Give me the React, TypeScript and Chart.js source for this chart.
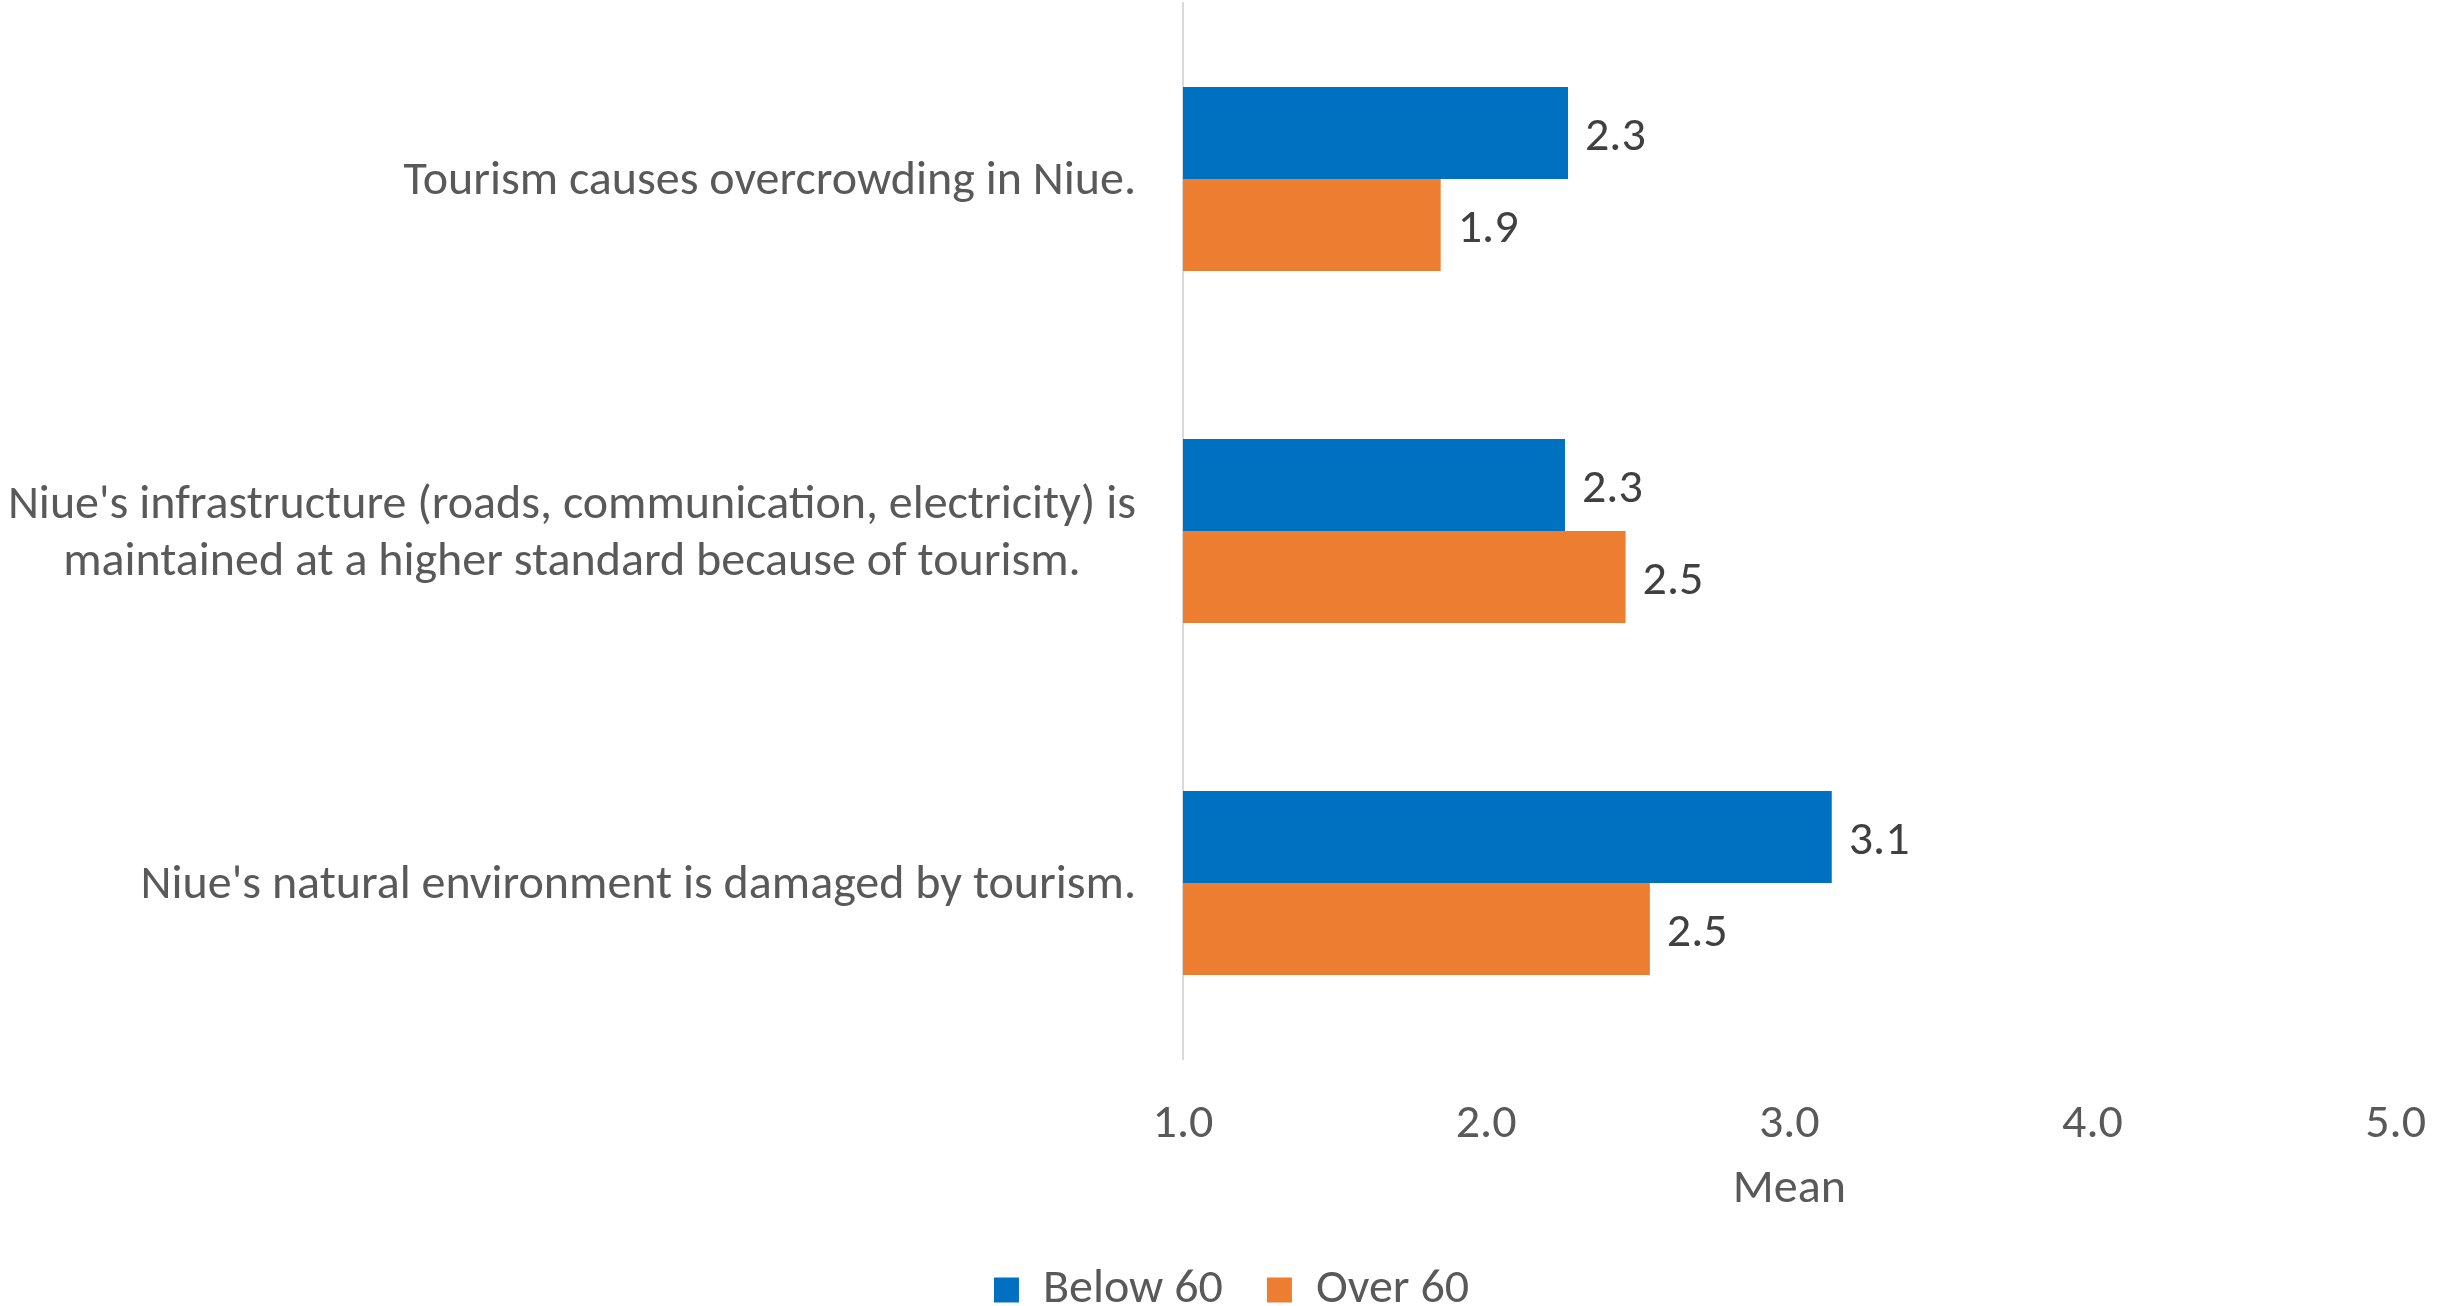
import React, { useEffect, useRef } from "react";
import { Chart, registerables } from "chart.js";

Chart.register(...registerables);

const categories: string[][] = [
  ["Tourism causes overcrowding in Niue."],
  [
    "Niue's infrastructure (roads, communication, electricity) is",
    "maintained at a higher standard because of tourism.",
  ],
  ["Niue's natural environment is damaged by tourism."],
];
const below60: number[] = [2.27, 2.26, 3.14];
const over60: number[] = [1.85, 2.46, 2.54];
const seriesNames: string[] = ["Below 60", "Over 60"];
const xTicks: number[] = [1, 2, 3, 4, 5];
const axisTitle = "Mean";

const FONT = "Carlito, Calibri, Lato, 'Noto Sans', sans-serif";
const FS = 48;
const LEG_PAD = 44;
const LEGEND_TOP = 1222;

const legendPlacePlugin = {
  id: "legendPlacePlugin",
  afterLayout(chart: any) {
    const l = chart.legend;
    if (!l) return;
    const h = l.height;
    l.top = LEGEND_TOP;
    l.bottom = LEGEND_TOP + h;
  },
};

const yLabelPlugin = {
  id: "yLabelPlugin",
  afterDraw(chart: any) {
    const ctx = chart.ctx;
    const y = chart.scales.y;
    ctx.save();
    ctx.font = `${FS}px ${FONT}`;
    ctx.fillStyle = "#595959";
    ctx.textAlign = "center";
    ctx.textBaseline = "middle";
    const lh = 57;
    categories.forEach((lines, i) => {
      const py = y.getPixelForValue(i) + 3;
      const widest = Math.max(...lines.map((l) => ctx.measureText(l).width));
      const cx = chart.chartArea.left - 47 - widest / 2;
      const startY = py - ((lines.length - 1) * lh) / 2;
      lines.forEach((l, k) => ctx.fillText(l, cx, startY + k * lh));
    });
    ctx.restore();
  },
};

const valueLabelPlugin = {
  id: "valueLabelPlugin",
  afterDatasetsDraw(chart: any) {
    const ctx = chart.ctx;
    ctx.save();
    ctx.font = `${FS}px ${FONT}`;
    ctx.fillStyle = "#404040";
    ctx.textAlign = "left";
    ctx.textBaseline = "middle";
    chart.data.datasets.forEach((ds: any, di: number) => {
      const meta = chart.getDatasetMeta(di);
      meta.data.forEach((bar: any, i: number) => {
        ctx.fillText(Number(ds.data[i]).toFixed(1), bar.x + 17, bar.y + 5);
      });
    });
    ctx.restore();
  },
};

export default function App() {
  const ref = useRef<HTMLCanvasElement | null>(null);
  useEffect(() => {
    if (!ref.current) return;
    const chart = new Chart(ref.current, {
      type: "bar",
      data: {
        labels: categories.map((c) => c.join(" ")),
        datasets: [
          {
            label: seriesNames[0],
            data: below60,
            backgroundColor: "#0070C0",
            borderWidth: 0,
            barPercentage: 1,
            categoryPercentage: 0.523,
          },
          {
            label: seriesNames[1],
            data: over60,
            backgroundColor: "#ED7D31",
            borderWidth: 0,
            barPercentage: 1,
            categoryPercentage: 0.523,
          },
        ],
      },
      options: {
        indexAxis: "y",
        responsive: false,
        animation: false,
        layout: { padding: { top: 3, right: 61, left: 61, bottom: -15 } },
        scales: {
          y: {
            type: "category",
            afterFit: (s: any) => {
              s.width = 1183 - 61;
            },
            ticks: { display: false },
            grid: { display: false },
            border: { display: true, color: "#D9D9D9", width: 2 },
          },
          x: {
            type: "linear",
            min: 1,
            max: 5,
            afterFit: (s: any) => {
              s.height = 160;
            },
            afterBuildTicks: (s: any) => {
              s.ticks = xTicks.map((v) => ({ value: v }));
            },
            ticks: {
              callback: (v: any) => Number(v).toFixed(1),
              font: { family: FONT, size: FS },
              color: "#595959",
              padding: 37,
            },
            grid: { display: false, drawTicks: false },
            border: { display: false },
            title: {
              display: true,
              text: axisTitle,
              font: { family: FONT, size: FS },
              color: "#595959",
              padding: 0,
            },
          },
        },
        plugins: {
          legend: {
            position: "bottom",
            labels: {
              boxWidth: 25,
              boxHeight: 25,
              padding: LEG_PAD,
              font: { family: FONT, size: FS },
              color: "#595959",
            },
          },
          tooltip: { enabled: false },
        },
      },
      plugins: [legendPlacePlugin, yLabelPlugin, valueLabelPlugin],
    } as any);
    return () => chart.destroy();
  }, []);
  return (
    <div style={{ position: "fixed", left: 0, top: 0, width: 2463, height: 1306, background: "#fff" }}>
      <canvas ref={ref} width={2463} height={1306} style={{ display: "block" }} />
    </div>
  );
}
